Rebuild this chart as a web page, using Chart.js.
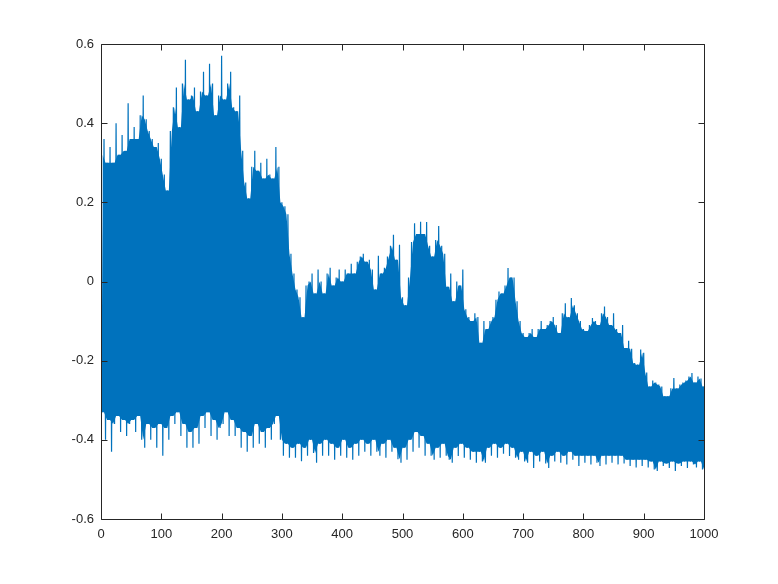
<!doctype html>
<html lang="en">
  <head>
    <meta charset="UTF-8" />
    <title>Signal</title>
    <script src="https://cdn.jsdelivr.net/npm/chart.js@4.4.0/dist/chart.umd.min.js"></script>
    <style>
      html, body { margin: 0; padding: 0; background: #fff; }
      #wrap { width: 778px; height: 584px; }
    </style>
  </head>
  <body>
    <div id="wrap"><canvas id="sig"></canvas></div>
    <script>
// sample positions (every 5 units) and the upper / lower swing of the signal at each one
const xs = [];
for (let i = 0; i <= 200; i++) xs.push(i * 5);

const upper = [
  0.32, 0.36, 0.30, 0.34, 0.30, 0.40, 0.32, 0.37, 0.33, 0.45,
  0.36, 0.39, 0.36, 0.42, 0.47, 0.41, 0.38, 0.36, 0.34, 0.35,
  0.31, 0.27, 0.23, 0.38, 0.44, 0.49, 0.39, 0.50, 0.56, 0.46,
  0.47, 0.49, 0.43, 0.48, 0.53, 0.47, 0.55, 0.50, 0.42, 0.47,
  0.57, 0.46, 0.50, 0.53, 0.44, 0.43, 0.47, 0.33, 0.25, 0.21,
  0.29, 0.33, 0.28, 0.30, 0.26, 0.31, 0.27, 0.26, 0.34, 0.29,
  0.20, 0.19, 0.17, 0.07, 0.02, -0.02, -0.04, -0.09, -0.01, 0.00,
  0.02, -0.03, 0.03, 0.00, -0.03, 0.02, 0.035, -0.01, 0.01, 0.03,
  0.00, 0.03, 0.02, 0.045, 0.02, 0.05, 0.063, 0.07, 0.05, 0.055,
  0.03, -0.02, 0.065, 0.02, 0.035, 0.063, 0.09, 0.118, 0.055, 0.093,
  -0.04, -0.06, 0.01, 0.10, 0.147, 0.12, 0.151, 0.12, 0.15, 0.09,
  0.063, 0.105, 0.14, 0.09, 0.07, -0.013, 0.02, -0.05, 0.00, -0.01,
  0.03, -0.07, -0.09, -0.10, -0.08, -0.09, -0.155, -0.10, -0.12, -0.10,
  -0.09, -0.046, -0.025, -0.03, -0.01, 0.034, 0.01, 0.01, -0.05, -0.10,
  -0.13, -0.14, -0.13, -0.12, -0.14, -0.12, -0.10, -0.12, -0.11, -0.10,
  -0.09, -0.11, -0.13, -0.08, -0.055, -0.09, -0.042, -0.06, -0.08, -0.10,
  -0.12, -0.125, -0.11, -0.092, -0.10, -0.11, -0.08, -0.063, -0.09, -0.11,
  -0.08, -0.12, -0.13, -0.11, -0.168, -0.15, -0.17, -0.206, -0.21, -0.172,
  -0.18, -0.23, -0.265, -0.25, -0.255, -0.26, -0.265, -0.29, -0.29, -0.27,
  -0.244, -0.27, -0.26, -0.255, -0.25, -0.24, -0.231, -0.255, -0.24, -0.245,
  -0.265
];

const lower = [
  -0.33, -0.40, -0.35, -0.43, -0.36, -0.34, -0.38, -0.35, -0.39, -0.36,
  -0.35, -0.38, -0.34, -0.40, -0.42, -0.36, -0.40, -0.37, -0.42, -0.36,
  -0.44, -0.37, -0.40, -0.34, -0.36, -0.33, -0.39, -0.36, -0.42, -0.38,
  -0.42, -0.37, -0.41, -0.34, -0.37, -0.33, -0.39, -0.35, -0.40, -0.37,
  -0.36, -0.33, -0.39, -0.35, -0.39, -0.37, -0.42, -0.38, -0.43, -0.39,
  -0.42, -0.36, -0.41, -0.38, -0.42, -0.37, -0.40, -0.36, -0.34, -0.40,
  -0.44, -0.41, -0.445, -0.42, -0.445, -0.41, -0.454, -0.42, -0.44, -0.40,
  -0.433, -0.458, -0.41, -0.44, -0.40, -0.44, -0.41, -0.45, -0.42, -0.44,
  -0.40, -0.445, -0.42, -0.45, -0.41, -0.44, -0.40, -0.43, -0.41, -0.44,
  -0.40, -0.43, -0.44, -0.41, -0.445, -0.40, -0.43, -0.42, -0.449, -0.458,
  -0.42, -0.45, -0.40, -0.43, -0.38, -0.42, -0.39, -0.44, -0.41, -0.44,
  -0.45, -0.42, -0.445, -0.41, -0.44, -0.45, -0.458, -0.42, -0.441, -0.41,
  -0.445, -0.42, -0.45, -0.43, -0.458, -0.43, -0.455, -0.458, -0.42, -0.44,
  -0.41, -0.445, -0.42, -0.435, -0.41, -0.441, -0.42, -0.445, -0.45, -0.43,
  -0.455, -0.458, -0.43, -0.471, -0.44, -0.455, -0.43, -0.46, -0.471, -0.44,
  -0.455, -0.43, -0.458, -0.44, -0.462, -0.43, -0.45, -0.44, -0.466, -0.44,
  -0.458, -0.44, -0.462, -0.44, -0.458, -0.466, -0.44, -0.462, -0.44, -0.458,
  -0.44, -0.462, -0.44, -0.46, -0.45, -0.466, -0.45, -0.47, -0.45, -0.466,
  -0.45, -0.47, -0.455, -0.475, -0.479, -0.455, -0.466, -0.46, -0.471, -0.455,
  -0.479, -0.46, -0.466, -0.455, -0.471, -0.455, -0.462, -0.47, -0.455, -0.475,
  -0.479
];

const xTickLabels = ['0', '100', '200', '300', '400', '500', '600', '700', '800', '900', '1000'];
const yTickLabels = ['-0.6', '-0.4', '-0.2', '0', '0.2', '0.4', '0.6'];

// the trace swings up to the upper value, then down to the lower one half a step later
const half = (xs[1] - xs[0]) / 2;
const trace = [];
xs.forEach((x, i) => {
  trace.push({ x: x, y: upper[i] });
  trace.push({ x: x + half, y: lower[i] });
});

// solid core of the band: the part both neighbouring swings pass through
const coreTop = xs.map((x, i) => ({ x: x + half, y: Math.min(upper[i], upper[Math.min(i + 1, xs.length - 1)]) }));
const coreBottom = xs.map((x, i) => ({ x: x, y: Math.max(lower[i], lower[Math.max(i - 1, 0)]) }));

const blue = '#0072BD';
const axisColor = '#262626';
const tickLen = 6;

// matlab style box with ticks pointing inwards on all four sides
const boxPlugin = {
  id: 'box',
  afterDraw(chart) {
    const ctx = chart.ctx;
    const a = chart.chartArea;
    const sx = chart.scales.x, sy = chart.scales.y;
    ctx.save();
    ctx.strokeStyle = axisColor;
    ctx.lineWidth = 1;
    ctx.beginPath();
    const L = Math.round(a.left) + 0.5, R = Math.round(a.right) + 0.5;
    const T = Math.round(a.top) + 0.5, B = Math.round(a.bottom) + 0.5;
    ctx.rect(L, T, R - L, B - T);
    sx.ticks.forEach(t => {
      const px = Math.round(sx.getPixelForValue(t.value)) + 0.5;
      ctx.moveTo(px, B); ctx.lineTo(px, B - tickLen);
      ctx.moveTo(px, T); ctx.lineTo(px, T + tickLen);
    });
    sy.ticks.forEach(t => {
      const py = Math.round(sy.getPixelForValue(t.value)) + 0.5;
      ctx.moveTo(L, py); ctx.lineTo(L + tickLen, py);
      ctx.moveTo(R, py); ctx.lineTo(R - tickLen, py);
    });
    ctx.stroke();
    ctx.restore();
  }
};

new Chart(document.getElementById('sig'), {
  type: 'line',
  data: {
    datasets: [{
      data: coreTop,
      borderWidth: 0,
      pointRadius: 0,
      tension: 0,
      fill: false
    }, {
      data: coreBottom,
      borderWidth: 0,
      pointRadius: 0,
      tension: 0,
      backgroundColor: blue,
      fill: '-1'
    }, {
      data: trace,
      borderColor: blue,
      borderWidth: 1.2,
      pointRadius: 0,
      tension: 0,
      fill: false
    }]
  },
  options: {
    responsive: true,
    maintainAspectRatio: false,
    animation: false,
    layout: { padding: { top: 44, right: 74, left: 0, bottom: 0 } },
    plugins: {
      legend: { display: false },
      tooltip: { enabled: false }
    },
    scales: {
      x: {
        type: 'linear',
        min: 0,
        max: 1000,
        border: { display: false },
        grid: { display: false, drawTicks: false },
        afterFit(scale) { scale.height = 65; },
        ticks: {
          stepSize: 100,
          padding: 8,
          color: axisColor,
          font: { family: 'Liberation Sans', size: 13 },
          maxRotation: 0,
          callback: (v, i) => xTickLabels[i]
        }
      },
      y: {
        type: 'linear',
        min: -0.6,
        max: 0.6,
        border: { display: false },
        grid: { display: false, drawTicks: false },
        afterFit(scale) { scale.width = 101; },
        ticks: {
          stepSize: 0.2,
          padding: 7,
          color: axisColor,
          font: { family: 'Liberation Sans', size: 13 },
          callback: (v, i) => yTickLabels[i]
        }
      }
    }
  },
  plugins: [boxPlugin]
});
    </script>
  </body>
</html>
